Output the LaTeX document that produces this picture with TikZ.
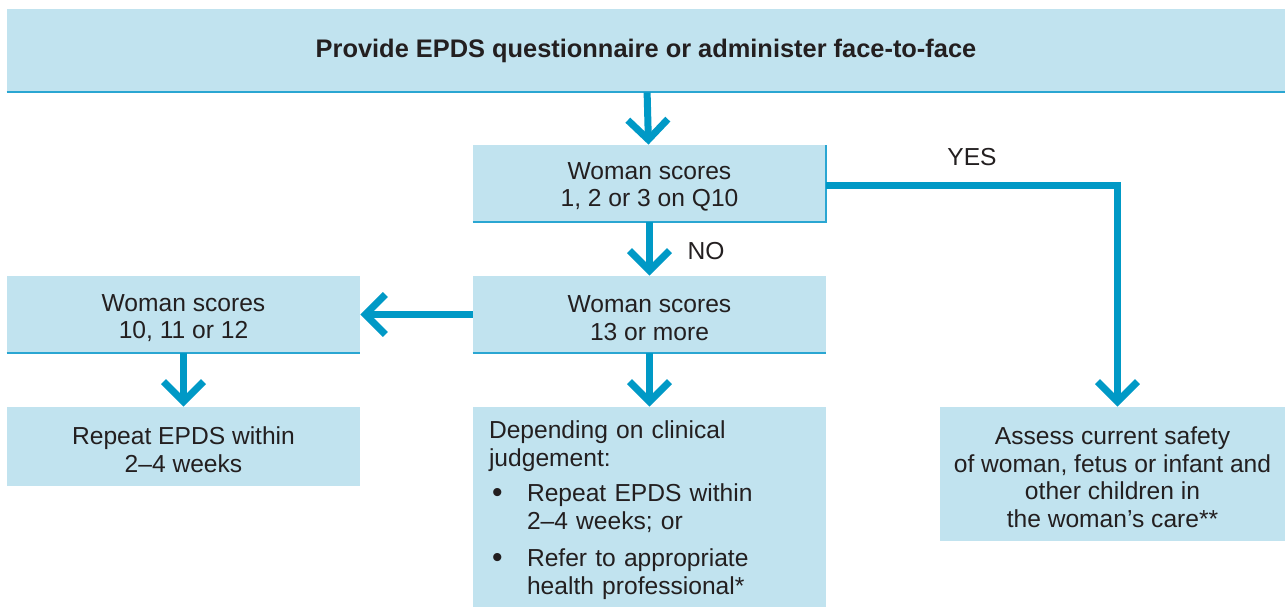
\documentclass[tikz,border=0pt]{standalone}
\usepackage{fontspec}
\setmainfont{Liberation Sans}
\usepackage{xcolor}
\usetikzlibrary{arrows.meta,
	calc,
	positioning}
\definecolor{boxfill}{HTML}{C1E3EF}
\definecolor{boxedge}{HTML}{2AA6D2}
\definecolor{flowblue}{HTML}{0099C6}
\definecolor{inktext}{HTML}{231F20}
\newcommand{\bigdot}{\makebox[19pt][l]{\hspace{1.5pt}\raisebox{-0.5pt}{\fontsize{15}{15}\selectfont\textbullet}}}

\begin{document}
\begin{tikzpicture}[x=0.5pt,y=-0.5pt,
	every node/.style={text=inktext,font=\fontsize{12.3}{13.8}\selectfont},
	stage/.style={fill=boxfill,minimum width=176.5pt,minimum height=38.5pt,align=center,inner sep=0pt},
	flow/.style={draw=flowblue,line width=3.5pt,-{Straight Barb[length=10pt,width=20pt]}},
	rule/.style={draw=boxedge,line width=1pt}]
\useasboundingbox (0,0) rectangle (1285,607);

\node[stage,minimum width=639pt,minimum height=41.5pt,font=\fontsize{12.7}{14}\selectfont\bfseries] (epds) at (646,50.5) {Provide EPDS questionnaire or administer face-to-face};
\node[stage] (qten) at (649.5,183.5) {\rule{0pt}{12pt}Woman scores\\1, 2 or 3 on Q10};
\node[stage] (high) at (649.5,314.5) {\rule{0pt}{12pt}Woman scores\\13 or more};
\node[stage] (mid) at (183.5,314.5) {\rule{0pt}{12pt}Woman scores\\10, 11 or 12};
\node[stage,minimum height=39.5pt] (repeat) at (183.5,446.5) {\rule{0pt}{12pt}Repeat EPDS within\\2--4 weeks};
\node[stage,minimum height=100pt,text width=160.5pt,align=left] (judge) at (649.5,507) {\rule{0pt}{12pt}Depending on clinical\\judgement:\\[4pt]
	\bigdot Repeat EPDS within\\
	\hspace*{19pt}2--4 weeks; or\\[5pt]
	\bigdot Refer to appropriate\\
	\hspace*{19pt}health professional*};
\node[stage,minimum width=172.5pt,minimum height=67pt] (safety) at (1112.5,474) {\rule{0pt}{12pt}Assess current safety\\of woman, fetus or infant and\\other children in\\the woman’s care**};

% edges under the boxes
\draw[rule] (epds.south west) -- (epds.south east);
\draw[rule] (qten.south west) -- (qten.south east) -- (qten.north east);
\draw[rule] (high.south west) -- (high.south east);
\draw[rule] (mid.south west) -- (mid.south east);

\draw[flow] (epds) -- (qten);
\draw[flow] (qten) -- (high);
\draw[flow] (high) -- (mid);
\draw[flow] (mid) -- (repeat);
\draw[flow] (high) -- (judge);
\draw[flow] ([yshift=-0.75pt]qten.east) -| ([xshift=2.5pt]safety.north);

\node (yes) at (972,157) {YES};
\node (no) at (706,251) {NO};
\end{tikzpicture}
\end{document}
